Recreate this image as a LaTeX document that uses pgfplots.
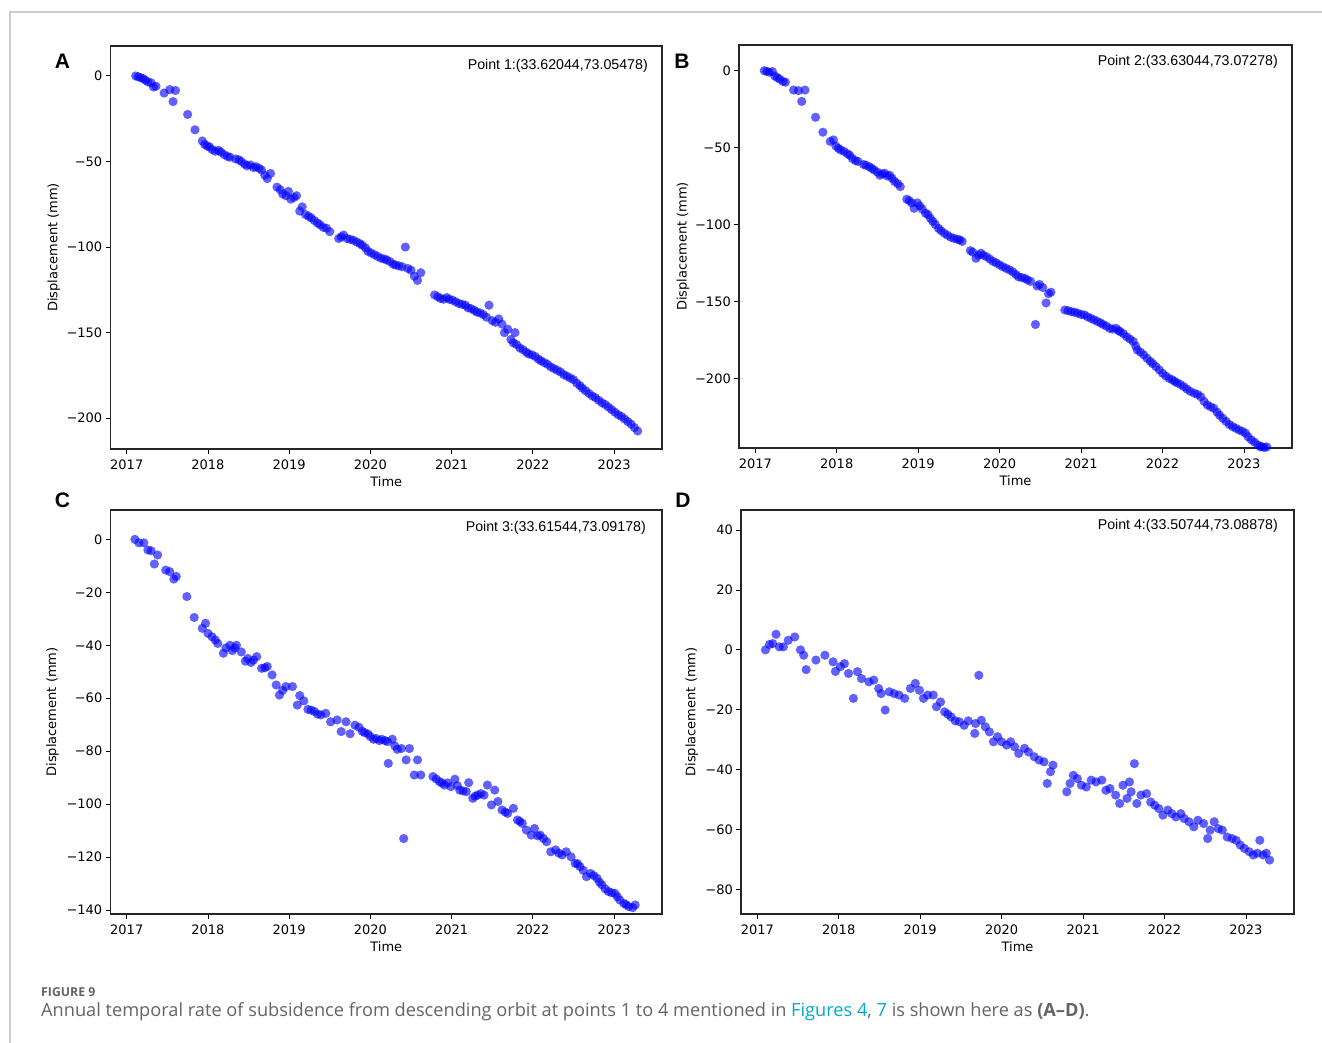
\documentclass[border=0pt]{standalone}
\usepackage{fontspec}
\setmainfont{DejaVu Sans}
\newfontfamily\libsans{Liberation Sans}
\newfontfamily\capfont{Open Sans}
\usepackage{pgfplots}
\usepackage{pgfplotstable}
\pgfplotsset{compat=1.18}
\definecolor{mkblue}{RGB}{0,0,255}
\definecolor{capgray}{RGB}{100,100,100}
\definecolor{linkcyan}{RGB}{0,170,205}
\definecolor{framegray}{RGB}{205,205,205}

\pgfplotstableread{
x y
2017.11 0
2017.14 -0.5
2017.17 -1
2017.20 -1.5
2017.23 -2.5
2017.26 -3.5
2017.30 -4
2017.33 -6.5
2017.36 -6
2017.46 -10
2017.53 -8
2017.57 -15
2017.60 -8.5
2017.75 -22.5
2017.84 -31.5
2017.93 -38
2017.96 -40
2017.99 -41
2018.02 -41.5
2018.05 -43
2018.09 -44
2018.13 -43.5
2018.16 -44.5
2018.20 -46
2018.24 -47
2018.27 -47.5
2018.34 -48.5
2018.38 -49
2018.41 -50
2018.45 -51.5
2018.48 -52.5
2018.52 -52
2018.56 -53.5
2018.59 -53
2018.63 -54
2018.66 -55
2018.70 -58
2018.73 -60
2018.77 -57
2018.85 -65
2018.89 -66.5
2018.92 -69
2018.96 -70
2018.99 -67.5
2019.02 -72
2019.06 -71
2019.09 -70
2019.13 -79
2019.16 -76.5
2019.20 -81
2019.24 -82
2019.27 -83
2019.31 -84.5
2019.35 -86
2019.38 -87
2019.42 -88.5
2019.46 -89
2019.50 -91
2019.61 -95
2019.64 -94
2019.67 -93
2019.71 -95
2019.75 -95.5
2019.79 -96
2019.83 -97
2019.87 -98
2019.90 -99
2019.94 -100.5
2019.97 -102.5
2020.01 -103.5
2020.05 -104.5
2020.09 -105.5
2020.13 -106.5
2020.17 -107
2020.20 -107.5
2020.24 -108.5
2020.28 -110
2020.31 -110.5
2020.35 -111
2020.39 -111.5
2020.43 -100
2020.46 -112.5
2020.50 -113.5
2020.54 -117
2020.58 -119.5
2020.62 -115
2020.79 -128
2020.83 -129
2020.86 -130
2020.90 -130.5
2020.94 -129.5
2020.97 -130.5
2021.01 -131
2021.05 -132
2021.09 -133
2021.13 -133.5
2021.17 -134
2021.20 -135.5
2021.24 -136
2021.28 -137
2021.31 -138
2021.35 -138.5
2021.39 -139.5
2021.43 -141
2021.46 -134
2021.50 -143
2021.54 -144
2021.58 -142
2021.62 -145
2021.65 -150
2021.69 -148
2021.73 -154
2021.76 -156
2021.78 -150
2021.80 -157
2021.84 -159
2021.88 -160
2021.92 -161.5
2021.95 -162.5
2021.99 -163
2022.03 -164
2022.07 -165.5
2022.10 -166.5
2022.14 -167.5
2022.18 -168.5
2022.22 -170
2022.26 -171
2022.30 -172
2022.34 -173
2022.38 -174.5
2022.42 -175.5
2022.46 -176.5
2022.50 -177.5
2022.54 -179.5
2022.58 -181
2022.61 -182.5
2022.65 -184
2022.69 -185.5
2022.73 -187
2022.77 -188
2022.81 -189.5
2022.85 -191
2022.89 -192
2022.93 -193.5
2022.97 -195
2023.01 -196.5
2023.05 -198
2023.09 -199
2023.13 -200.5
2023.17 -202
2023.21 -203.5
2023.25 -205.5
2023.29 -207.5
}\dataA

\pgfplotstableread{
x y
2017.11 0
2017.14 -0.5
2017.17 -1
2017.21 -0.6
2017.24 -3.5
2017.27 -4.5
2017.30 -5.5
2017.34 -7
2017.37 -7.5
2017.47 -12.6
2017.53 -13
2017.57 -20
2017.61 -12.6
2017.74 -30.3
2017.83 -40
2017.92 -46
2017.96 -45
2017.99 -49
2018.02 -50.5
2018.05 -51.6
2018.09 -52.5
2018.13 -54
2018.16 -55
2018.19 -57
2018.23 -58.5
2018.26 -59
2018.33 -61
2018.36 -61.5
2018.40 -62.5
2018.43 -63.5
2018.46 -64.6
2018.50 -66
2018.53 -68
2018.56 -67
2018.59 -66.7
2018.62 -68.5
2018.65 -68
2018.68 -70
2018.71 -72
2018.75 -73.5
2018.78 -75.4
2018.86 -83.6
2018.89 -84.5
2018.92 -86
2018.95 -89.5
2018.99 -86
2019.02 -88
2019.05 -90
2019.09 -92.7
2019.12 -93.5
2019.15 -96
2019.18 -98
2019.21 -100
2019.25 -102.5
2019.28 -104
2019.32 -105.7
2019.36 -107
2019.40 -108.3
2019.44 -109
2019.48 -109.6
2019.51 -110
2019.54 -111
2019.64 -117
2019.67 -118
2019.71 -122
2019.74 -120
2019.77 -118.7
2019.80 -120
2019.84 -121
2019.88 -122.5
2019.92 -124
2019.96 -125
2020.00 -126.3
2020.04 -127.5
2020.08 -128.5
2020.12 -129.5
2020.16 -130.7
2020.20 -132.5
2020.23 -134
2020.27 -134.5
2020.31 -135
2020.34 -136
2020.38 -137
2020.44 -165
2020.46 -140
2020.49 -139
2020.53 -141
2020.57 -151
2020.60 -145
2020.63 -144
2020.80 -155.6
2020.84 -156
2020.88 -156.7
2020.92 -157
2020.96 -157.7
2021.00 -158.5
2021.04 -158.8
2021.08 -160
2021.12 -161
2021.16 -162
2021.20 -163
2021.24 -164
2021.27 -165
2021.31 -166
2021.35 -167.5
2021.39 -168
2021.43 -167.5
2021.46 -169
2021.48 -169.7
2021.52 -171
2021.56 -173
2021.60 -174.5
2021.64 -176
2021.67 -179
2021.69 -181.6
2021.73 -183
2021.77 -184.8
2021.81 -187
2021.85 -189
2021.88 -190.5
2021.92 -192.4
2021.96 -194.5
2022.00 -196.7
2022.04 -198.5
2022.08 -200
2022.12 -201
2022.15 -202
2022.18 -203
2022.22 -204
2022.26 -205.4
2022.30 -207
2022.34 -208.5
2022.39 -209.7
2022.43 -210.5
2022.47 -212
2022.51 -215
2022.55 -217.3
2022.59 -218.5
2022.63 -219.5
2022.67 -222
2022.70 -224
2022.74 -226
2022.78 -228
2022.82 -230
2022.86 -231.4
2022.90 -232.5
2022.94 -233.6
2022.98 -234.5
2023.02 -235.7
2023.05 -238
2023.09 -240
2023.13 -241.5
2023.17 -243.3
2023.20 -244.5
2023.22 -244.4
2023.25 -245
2023.28 -244.6
}\dataB

\pgfplotstableread{
x y
2017.10 0
2017.15 -1.3
2017.21 -1.3
2017.26 -4
2017.30 -4.3
2017.34 -9.3
2017.38 -5.9
2017.48 -11.6
2017.53 -12.2
2017.58 -15
2017.61 -14
2017.74 -21.6
2017.83 -29.5
2017.93 -33.6
2017.97 -31.7
2018.00 -35.5
2018.05 -36.8
2018.09 -38
2018.12 -39.3
2018.19 -43
2018.22 -41
2018.27 -40
2018.30 -42
2018.33 -41
2018.35 -40
2018.41 -42.5
2018.46 -46
2018.49 -45
2018.53 -46.5
2018.56 -45.6
2018.60 -44.3
2018.66 -48.7
2018.70 -48.5
2018.73 -48
2018.79 -51.2
2018.84 -55
2018.88 -58.8
2018.92 -57
2018.96 -55.6
2019.04 -55.6
2019.10 -62.6
2019.13 -59
2019.18 -61
2019.23 -64.2
2019.27 -64.5
2019.31 -65
2019.35 -66
2019.39 -66.3
2019.45 -65.7
2019.51 -68.9
2019.59 -68.2
2019.64 -72.6
2019.70 -68.9
2019.75 -73.4
2019.81 -70.2
2019.86 -71
2019.90 -72.5
2019.93 -73
2019.97 -73.5
2020.00 -74.5
2020.04 -75.5
2020.07 -75.2
2020.11 -76
2020.14 -75.5
2020.18 -76
2020.21 -76.4
2020.22 -84.6
2020.27 -75.5
2020.30 -78
2020.33 -79.3
2020.38 -79
2020.41 -113
2020.44 -83.3
2020.48 -79
2020.54 -89
2020.58 -83.3
2020.62 -89
2020.77 -89.6
2020.81 -90.5
2020.85 -91.5
2020.88 -92
2020.91 -92.8
2020.95 -92
2020.99 -93.4
2021.04 -90.6
2021.07 -93
2021.10 -94.7
2021.14 -95
2021.18 -95.3
2021.21 -91.9
2021.26 -97.8
2021.29 -97
2021.32 -96.6
2021.36 -96
2021.40 -96.6
2021.44 -92.8
2021.49 -100.3
2021.53 -94.7
2021.57 -99
2021.62 -102.2
2021.66 -103
2021.69 -103.5
2021.76 -101.6
2021.81 -106
2021.84 -106.5
2021.87 -107.3
2021.92 -109.8
2021.98 -111.7
2022.02 -109.2
2022.06 -112
2022.09 -111.7
2022.13 -113
2022.17 -114.2
2022.22 -118
2022.28 -117.3
2022.32 -118.5
2022.36 -119.2
2022.41 -118
2022.47 -119.9
2022.52 -122.4
2022.55 -122.5
2022.58 -123.6
2022.62 -125
2022.66 -127.4
2022.71 -126.2
2022.75 -127
2022.79 -128
2022.82 -129.5
2022.85 -130.5
2022.89 -132
2022.93 -133
2022.97 -133.5
2023.01 -133.7
2023.04 -135
2023.07 -136.2
2023.12 -137.5
2023.15 -138
2023.18 -138.7
2023.23 -139.1
2023.26 -138.1
}\dataC

\pgfplotstableread{
x y
2017.10 0
2017.15 1.8
2017.19 2.1
2017.23 5.2
2017.27 1
2017.32 1
2017.38 3.2
2017.46 4.3
2017.53 0
2017.57 -1.8
2017.60 -6.6
2017.72 -3.4
2017.83 -1.8
2017.93 -4
2017.96 -7.2
2018.02 -5.6
2018.07 -4.6
2018.12 -7.9
2018.18 -16.2
2018.23 -7.3
2018.28 -9.6
2018.37 -10.7
2018.43 -10.1
2018.49 -12.9
2018.52 -14.6
2018.57 -20.1
2018.62 -14
2018.68 -14.6
2018.74 -15.1
2018.81 -16.2
2018.88 -12.9
2018.94 -11.2
2018.99 -13.5
2019.04 -16.2
2019.09 -15.1
2019.16 -15.1
2019.20 -19
2019.25 -17.4
2019.30 -20.7
2019.34 -21.5
2019.38 -22.4
2019.43 -23.7
2019.48 -24
2019.54 -25.2
2019.59 -23.7
2019.67 -27.9
2019.68 -24.6
2019.72 -8.5
2019.75 -23.5
2019.80 -25.7
2019.85 -27.4
2019.90 -30.7
2019.95 -29
2020.00 -30.7
2020.06 -31.8
2020.11 -30.7
2020.16 -32.4
2020.21 -34.6
2020.28 -32.9
2020.33 -34.1
2020.40 -35.7
2020.46 -36.8
2020.52 -37.4
2020.56 -44.6
2020.60 -40.7
2020.63 -38.5
2020.80 -47.4
2020.84 -44.6
2020.88 -41.9
2020.93 -43
2020.98 -45.2
2021.04 -45.8
2021.10 -43.5
2021.16 -44.1
2021.23 -43.5
2021.28 -46.9
2021.33 -46.3
2021.40 -48.5
2021.45 -51.3
2021.49 -45.2
2021.54 -49.6
2021.57 -44.1
2021.59 -47.4
2021.63 -38
2021.66 -51.3
2021.71 -48.5
2021.78 -48
2021.83 -50.8
2021.88 -51.9
2021.93 -53
2021.98 -55.2
2022.04 -53.5
2022.09 -54.7
2022.14 -55.8
2022.20 -54.7
2022.24 -56.3
2022.30 -57.4
2022.36 -59.1
2022.41 -56.9
2022.48 -58
2022.53 -63
2022.56 -60.2
2022.61 -57.4
2022.66 -59.7
2022.71 -60.2
2022.77 -62.5
2022.83 -63
2022.88 -63.6
2022.93 -65.2
2022.98 -66.3
2023.04 -67.4
2023.09 -68.5
2023.14 -67.9
2023.17 -63.6
2023.21 -68.5
2023.25 -67.9
2023.29 -70.2
}\dataD

\pgfplotsset{
  panel/.style={
    scale only axis,
    anchor=south west,
    xmin=2016.8, xmax=2023.59,
    xtick={2017,2018,2019,2020,2021,2022,2023},
    xticklabels={2017,2018,2019,2020,2021,2022,2023},
    tick pos=left,
    tick align=outside,
    major tick length=4.7pt,
    tick style={black, line width=0.9pt},
    axis line style={line width=1.4pt, black!85},
    ticklabel style={font=\fontsize{13}{15}\selectfont},
    xticklabel style={yshift=-3pt},
    xlabel={Time},
    ylabel={Displacement (mm)},
    xlabel style={at={(axis description cs:0.5,0)}, yshift=-33pt, anchor=center, font=\fontsize{13}{15}\selectfont},
    clip=true,
  },
  pts/.style={only marks, mark=*, mark size=4.6pt, color=mkblue,
    mark options={draw opacity=0, fill=mkblue, fill opacity=0.62}},
}

\begin{document}
\begin{tikzpicture}
\useasboundingbox (0pt,0pt) rectangle (1322pt,1043pt);
\draw[framegray, line width=1.5pt] (1322pt,1031pt) -- (10pt,1031pt) -- (10pt,0pt);

% Panel A
\begin{axis}[panel, at={(110.5pt,594pt)}, width=551.5pt, height=403pt,
  ymin=-218, ymax=17.5,
  ytick={-200,-150,-100,-50,0},
  yticklabels={−200,−150,−100,−50,0},
  ylabel style={at={(axis description cs:-0.103,0.5)}, anchor=center, font=\fontsize{13}{15}\selectfont}]
\addplot[pts] table[x=x,y=y] {\dataA};
\node[anchor=east, inner sep=0pt, xshift=-14pt, yshift=-20pt, font=\libsans\fontsize{14.2}{16}\selectfont] at (rel axis cs:1,1) {Point 1:(33.62044,73.05478)};
\end{axis}

% Panel B
\begin{axis}[panel, at={(739pt,595pt)}, width=553pt, height=403pt,
  ymin=-245.3, ymax=16.7,
  ytick={-200,-150,-100,-50,0},
  yticklabels={−200,−150,−100,−50,0},
  ylabel style={at={(axis description cs:-0.101,0.5)}, anchor=center, font=\fontsize{13}{15}\selectfont}]
\addplot[pts] table[x=x,y=y] {\dataB};
\node[anchor=east, inner sep=0pt, xshift=-14pt, yshift=-17pt, font=\libsans\fontsize{14.2}{16}\selectfont] at (rel axis cs:1,1) {Point 2:(33.63044,73.07278)};
\end{axis}

% Panel C
\begin{axis}[panel, at={(110.5pt,129pt)}, width=551.5pt, height=404pt,
  ymin=-141.5, ymax=11.1,
  ytick={-140,-120,-100,-80,-60,-40,-20,0},
  yticklabels={−140,−120,−100,−80,−60,−40,−20,0},
  ylabel style={at={(axis description cs:-0.105,0.5)}, anchor=center, font=\fontsize{13}{15}\selectfont}]
\addplot[pts] table[x=x,y=y] {\dataC};
\node[anchor=east, inner sep=0pt, xshift=-16pt, yshift=-17.5pt, font=\libsans\fontsize{14.2}{16}\selectfont] at (rel axis cs:1,1) {Point 3:(33.61544,73.09178)};
\end{axis}

% Panel D
\begin{axis}[panel, at={(741pt,129pt)}, width=553pt, height=404pt,
  ymin=-88.2, ymax=46.7,
  ytick={-80,-60,-40,-20,0,20,40},
  yticklabels={−80,−60,−40,−20,0,20,40},
  ylabel style={at={(axis description cs:-0.089,0.5)}, anchor=center, font=\fontsize{13}{15}\selectfont}]
\addplot[pts] table[x=x,y=y] {\dataD};
\node[anchor=east, inner sep=0pt, xshift=-16pt, yshift=-16pt, font=\libsans\fontsize{14.2}{16}\selectfont] at (rel axis cs:1,1) {Point 4:(33.50744,73.08878)};
\end{axis}

% panel letters
\node[font=\libsans\bfseries\fontsize{21}{24}\selectfont] at (62.5pt,982pt) {A};
\node[font=\libsans\bfseries\fontsize{21}{24}\selectfont] at (682pt,982pt) {B};
\node[font=\libsans\bfseries\fontsize{21}{24}\selectfont] at (62.5pt,542.5pt) {C};
\node[font=\libsans\bfseries\fontsize{21}{24}\selectfont] at (683pt,542.5pt) {D};

% caption
\node[anchor=west, inner sep=0pt, text=capgray, font=\capfont\bfseries\fontsize{12.3}{15}\selectfont] at (41pt,51pt) {FIGURE 9};
\node[anchor=west, inner sep=0pt, text=capgray, font=\capfont\fontsize{18.2}{22}\selectfont] at (41pt,31pt) {Annual temporal rate of subsidence from descending orbit at points 1 to 4 mentioned in \textcolor{linkcyan}{Figures 4}, \textcolor{linkcyan}{7} is shown here as \textbf{(A–D)}.};
\end{tikzpicture}
\end{document}
